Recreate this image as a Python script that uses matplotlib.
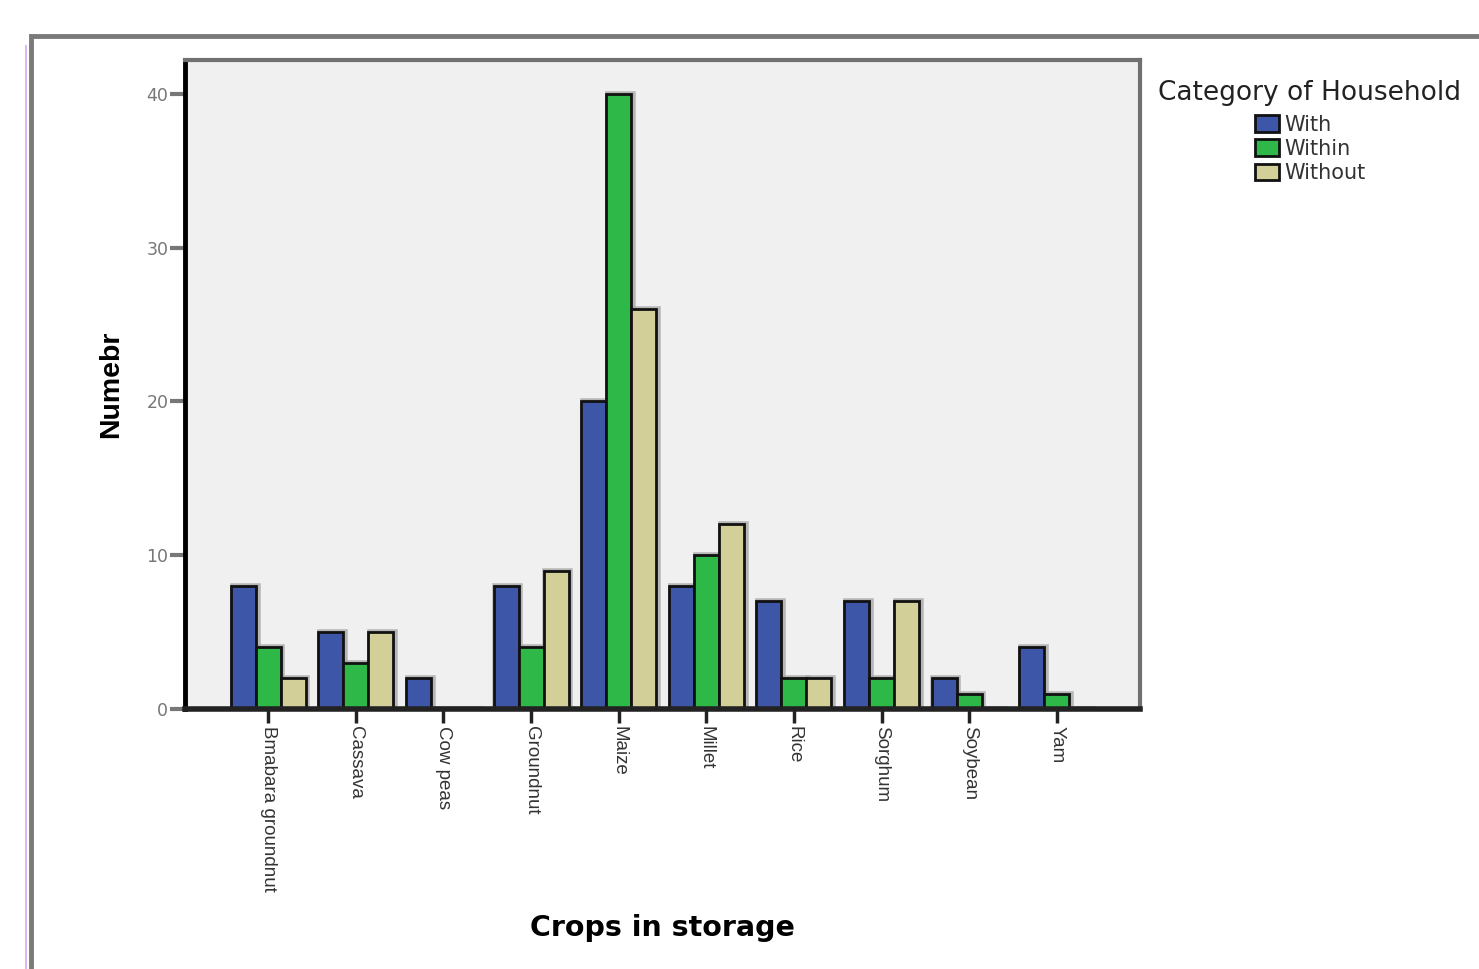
import matplotlib
matplotlib.use('Agg')
import matplotlib.pyplot as plt
import numpy as np
from matplotlib.patches import Rectangle, Patch

# data
crops = ['Bmabara groundnut', 'Cassava', 'Cow peas', 'Groundnut', 'Maize',
         'Millet', 'Rice', 'Sorghum', 'Soybean', 'Yam']
with_hh = [8, 5, 2, 8, 20, 8, 7, 7, 2, 4]
within_hh = [4, 3, 0, 4, 40, 10, 2, 2, 1, 1]
without_hh = [2, 5, 0, 9, 26, 12, 2, 7, 0, 0]
series_names = ['With', 'Within', 'Without']
colors = ['#3d56a8', '#2db847', '#d3cf98']

plt.rcParams['font.family'] = ['DejaVu Sans']

fig = plt.figure(figsize=(14.79, 9.69), dpi=100)
ax = fig.add_axes([185/1479, 1 - 709/969, (1140-185)/1479, (709-60)/969])
ax.set_facecolor('#f0f0f0')

# outer frame of the chart
fig.patches.append(Rectangle((31/1479, -0.05), 1.2, 1 - 36/969 + 0.05,
                             transform=fig.transFigure, fill=False,
                             edgecolor='#7a7a7a', linewidth=3.5, zorder=0))
fig.patches.append(Rectangle((25/1479, 0), 2/1479, 1 - 45/969,
                             transform=fig.transFigure, facecolor='#d9b8f5',
                             edgecolor='none', zorder=0))

x = np.arange(len(crops))
w = 0.285
all_series = [with_hh, within_hh, without_hh]
for i, (vals, c) in enumerate(zip(all_series, colors)):
    pos = x + (i - 1) * w
    # soft shadow like SPSS output
    ax.bar(pos + 0.02, vals, w, color='none', edgecolor='#a8a8a8',
           linewidth=4, zorder=2, alpha=0.8)
    ax.bar(pos, vals, w, color=c, edgecolor='#111111', linewidth=2, zorder=3)

ax.set_xlim(-0.95, 9.95)
ax.set_ylim(0, 42.2)
ax.set_yticks([0, 10, 20, 30, 40])
ax.set_xticks(x)
ax.set_xticklabels(crops, rotation=-90, fontsize=13.5, color='#333333',
                   family=['Liberation Sans', 'DejaVu Sans'])
ax.tick_params(axis='y', length=11, width=3, color='#777777',
               labelsize=12.5, labelcolor='#777777', pad=1)
ax.tick_params(axis='x', length=10, width=2.5, color='#222222', pad=2)

ax.spines['left'].set_color('black')
ax.spines['left'].set_linewidth(3.5)
ax.spines['bottom'].set_color('#222222')
ax.spines['bottom'].set_linewidth(4)
ax.spines['bottom'].set_zorder(4)
ax.spines['top'].set_color('#707070')
ax.spines['top'].set_linewidth(3)
ax.spines['right'].set_color('#707070')
ax.spines['right'].set_linewidth(3)

ax.set_ylabel('Numebr', fontsize=20.5, fontweight='bold', labelpad=16,
              family='Liberation Sans')
fig.text(662/1479, 1 - 928/969, 'Crops in storage', fontsize=20.5,
         fontweight='bold', ha='center', va='center')

handles = [Patch(facecolor=c, edgecolor='#111111', linewidth=2) for c in colors]
leg = fig.legend(handles, series_names, title='Category of Household',
                 loc='upper center', bbox_to_anchor=(1310/1479, 1 - 70/969),
                 frameon=False, fontsize=15, title_fontsize=19,
                 handlelength=1.15, handleheight=0.85, handletextpad=0.25,
                 labelspacing=0.2, borderpad=0)
leg._legend_box.sep = 6
for t in leg.get_texts():
    t.set_color('#333333')
leg.get_title().set_color('#222222')

fig.savefig('out.png', dpi=100)
